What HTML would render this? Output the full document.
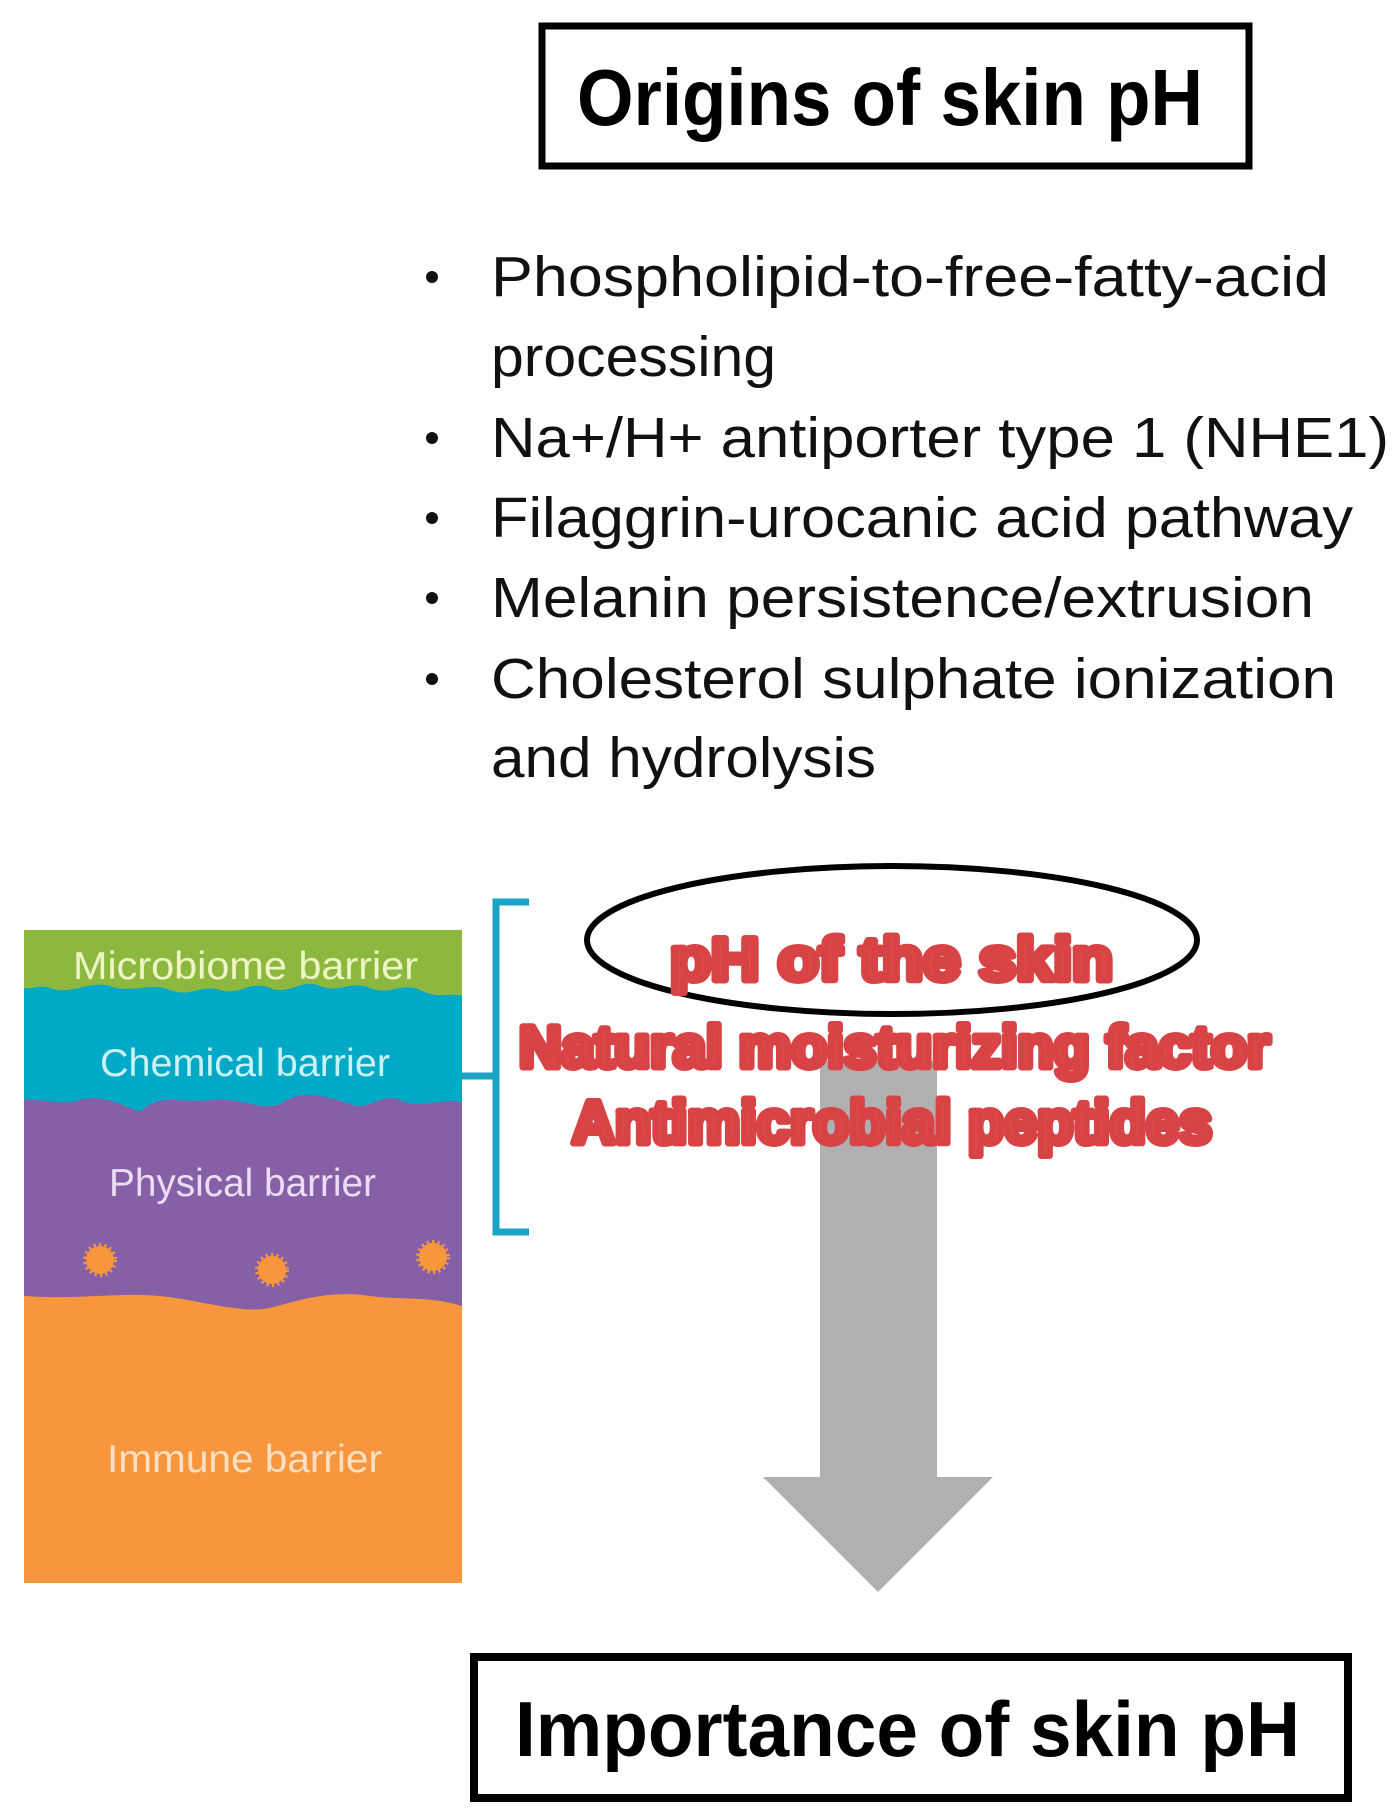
<!DOCTYPE html>
<html><head><meta charset="utf-8"><style>
html,body{margin:0;padding:0;background:#fff;}
svg{display:block;}
</style></head><body>
<svg width="1396" height="1820" viewBox="0 0 1396 1820" xmlns="http://www.w3.org/2000/svg">
<!-- Title box -->
<rect x="542" y="26" width="707" height="140" fill="#fff" stroke="#000" stroke-width="7"/>
<text x="577" y="125" font-family="Liberation Sans, sans-serif" font-weight="bold" font-size="80" textLength="626" lengthAdjust="spacingAndGlyphs">Origins of skin pH</text>

<!-- bullets -->
<g font-family="Liberation Sans, sans-serif" font-size="57" fill="#111">
<circle cx="432" cy="277" r="6" fill="#111"/>
<text x="491" y="296" textLength="838" lengthAdjust="spacingAndGlyphs">Phospholipid-to-free-fatty-acid</text>
<text x="491" y="376" textLength="285" lengthAdjust="spacingAndGlyphs">processing</text>
<circle cx="432" cy="438" r="6" fill="#111"/>
<text x="491" y="457" textLength="898" lengthAdjust="spacingAndGlyphs">Na+/H+ antiporter type 1 (NHE1)</text>
<circle cx="432" cy="518" r="6" fill="#111"/>
<text x="491" y="537" textLength="862" lengthAdjust="spacingAndGlyphs">Filaggrin-urocanic acid pathway</text>
<circle cx="432" cy="598" r="6" fill="#111"/>
<text x="491" y="617" textLength="823" lengthAdjust="spacingAndGlyphs">Melanin persistence/extrusion</text>
<circle cx="432" cy="679" r="6" fill="#111"/>
<text x="491" y="698" textLength="845" lengthAdjust="spacingAndGlyphs">Cholesterol sulphate ionization</text>
<text x="491" y="777" textLength="385" lengthAdjust="spacingAndGlyphs">and hydrolysis</text>
</g>

<!-- skin panel -->
<rect x="24" y="930" width="438" height="653" fill="#f7963c"/>
<path d="M24 930 H462 V1306 C430 1296 400 1300 370 1296 C330 1290 300 1300 270 1308 C240 1314 200 1300 160 1296 C120 1292 80 1300 24 1296 Z" fill="#8660a6"/>
<path d="M24 930 H462 V1102 C440 1098 420 1110 400 1100 C380 1092 370 1112 350 1104 C320 1094 300 1090 280 1104 C260 1112 240 1096 210 1100 C180 1104 160 1092 140 1112 C120 1104 100 1094 80 1100 C60 1106 40 1098 24 1100 Z" fill="#00a9c6"/>
<path d="M24 930 H462 V996 C450 992 440 1000 420 990 C400 982 390 996 370 988 C350 980 340 994 320 986 C300 978 290 996 270 988 C250 980 240 996 220 990 C200 984 190 998 170 990 C150 982 130 994 110 986 C90 980 70 996 50 988 C40 984 30 990 24 988 Z" fill="#8db83f"/>
<g font-family="Liberation Sans, sans-serif" font-size="39">
<text x="73" y="979" fill="#eef6c4" textLength="345" lengthAdjust="spacingAndGlyphs">Microbiome barrier</text>
<text x="100" y="1076" fill="#c8f2f5" textLength="290" lengthAdjust="spacingAndGlyphs">Chemical barrier</text>
<text x="109" y="1196" fill="#eddcf5" textLength="267" lengthAdjust="spacingAndGlyphs">Physical barrier</text>
<text x="107" y="1472" fill="#fde0c4" textLength="275" lengthAdjust="spacingAndGlyphs">Immune barrier</text>
</g>
<g fill="#f7963c" stroke="#f7963c" stroke-width="6" stroke-dasharray="2 3">
<circle cx="100" cy="1260" r="14"/>
<circle cx="272" cy="1270" r="14"/>
<circle cx="433" cy="1257" r="14"/>
</g>

<!-- bracket -->
<path d="M529 902 H496 V1232 H529 M496 1076 H462" fill="none" stroke="#1aa3c4" stroke-width="7"/>

<!-- gray arrow -->
<path d="M820 1061 H937 V1477 H993 L878 1592 L763 1477 H820 Z" fill="#b0b0b0"/>

<!-- ellipse -->
<ellipse cx="892" cy="940" rx="305" ry="74" fill="none" stroke="#000" stroke-width="6"/>

<!-- red text -->
<g font-family="Liberation Sans, sans-serif" font-weight="bold" fill="#e5484a" stroke="#d84446" stroke-width="7" stroke-linejoin="round" text-anchor="start">
<text x="670" y="980" font-size="60" textLength="443" lengthAdjust="spacingAndGlyphs">pH of the skin</text>
<text x="519" y="1067" font-size="58" textLength="751" lengthAdjust="spacingAndGlyphs">Natural moisturizing factor</text>
<text x="572" y="1143" font-size="60" textLength="640" lengthAdjust="spacingAndGlyphs">Antimicrobial peptides</text>
</g>

<!-- bottom box -->
<rect x="474" y="1657" width="874" height="141" fill="#fff" stroke="#000" stroke-width="8"/>
<text x="515" y="1756" font-family="Liberation Sans, sans-serif" font-weight="bold" font-size="78" textLength="785" lengthAdjust="spacingAndGlyphs">Importance of skin pH</text>
</svg>
</body></html>
